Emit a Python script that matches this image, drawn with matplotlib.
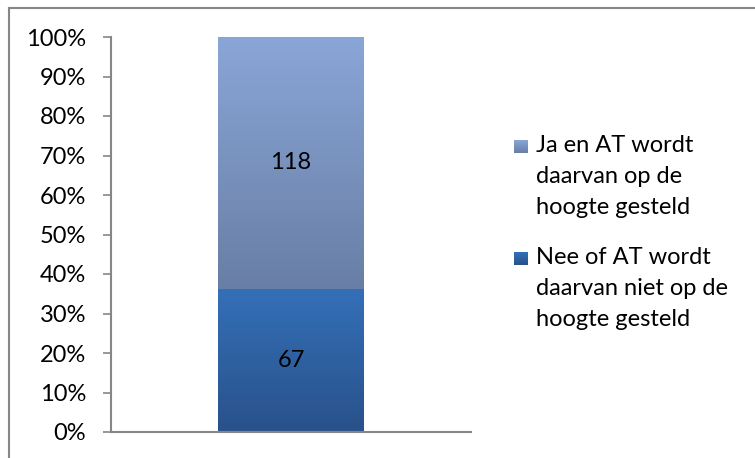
"""Stacked 100% bar: is AT informed (Ja / Nee)."""

import matplotlib
import matplotlib.pyplot as plt
import numpy as np
from matplotlib.colors import LinearSegmentedColormap
from matplotlib.lines import Line2D

matplotlib.use('Agg')

# Data
categories = ['']
series_names = [
    'Nee of AT wordt\ndaarvan niet op de\nhoogte gesteld',
    'Ja en AT wordt\ndaarvan op de\nhoogte gesteld',
]
counts = [67, 118]
y_ticks = [0, 10, 20, 30, 40, 50, 60, 70, 80, 90, 100]

# Styling
FONT = 'Lato'
FONT_SIZE = 17
GRAY = '#868686'
# (top colour, bottom colour) gradients per series
GRADIENTS = [('#3470B8', '#29518A'), ('#8AA6D7', '#687EA5')]

plt.rcParams['font.family'] = FONT

W, H, DPI = 755, 458, 100
fig = plt.figure(figsize=(W / DPI, H / DPI), dpi=DPI)
ax = fig.add_axes([111 / W, 1 - 432 / H, 360 / W, 395 / H])

total = sum(counts)
shares = [c / total * 100 for c in counts]
x = np.arange(len(categories))
bar_width = 0.403

bottom = 0.0
for share, count, (c_top, c_bot) in zip(shares, counts, GRADIENTS):
    bars = ax.bar(x, [share], bar_width, bottom=bottom, color='none',
                  edgecolor='none', zorder=2)
    cmap = LinearSegmentedColormap.from_list('g', [c_bot, c_top])
    for b in bars:
        bx, by = b.get_x(), b.get_y()
        bw, bh = b.get_width(), b.get_height()
        grad = np.linspace(0, 1, 256).reshape(-1, 1)
        im = ax.imshow(grad, cmap=cmap, origin='lower', aspect='auto',
                       extent=[bx, bx + bw, by, by + bh], zorder=2)
        im.set_clip_path(b)
        ax.text(bx + bw / 2, by + bh / 2, str(count), ha='center',
                va='center', fontsize=FONT_SIZE, color='black', zorder=3)
    bottom += share

ax.set_xlim(-0.5, 0.5)
ax.set_ylim(0, 100)
ax.set_yticks(y_ticks)
ax.set_yticklabels([f'{t}%' for t in y_ticks])
ax.set_xticks([])
ax.tick_params(axis='y', length=6, width=1.2, color=GRAY, pad=12,
               labelsize=FONT_SIZE)
for side in ['top', 'right']:
    ax.spines[side].set_visible(False)
for side in ['left', 'bottom']:
    ax.spines[side].set_color(GRAY)
    ax.spines[side].set_linewidth(1.5)

# Legend (reverse order, swatch aligned to first line)
legend_tops = [252, 140]
for name, (c_top, c_bot), top in zip(series_names, GRADIENTS, legend_tops):
    sw = fig.add_axes([514 / W, 1 - (top + 13) / H, 14 / W, 13 / H])
    sw.imshow(np.linspace(0, 1, 64).reshape(-1, 1), origin='lower',
              cmap=LinearSegmentedColormap.from_list('s', [c_bot, c_top]),
              aspect='auto')
    sw.axis('off')
    fig.text(536 / W, 1 - (top - 5) / H, name, ha='left', va='top',
             fontsize=FONT_SIZE, linespacing=1.6)

# Outer chart border
fig.add_artist(Line2D([9 / W, 1], [1 - 7.5 / H, 1 - 7.5 / H],
                      color=GRAY, lw=1.5, transform=fig.transFigure))
fig.add_artist(Line2D([9 / W, 9 / W], [0, 1 - 7.5 / H],
                      color=GRAY, lw=1.5, transform=fig.transFigure))

fig.savefig('out.png', dpi=DPI)
plt.close(fig)
